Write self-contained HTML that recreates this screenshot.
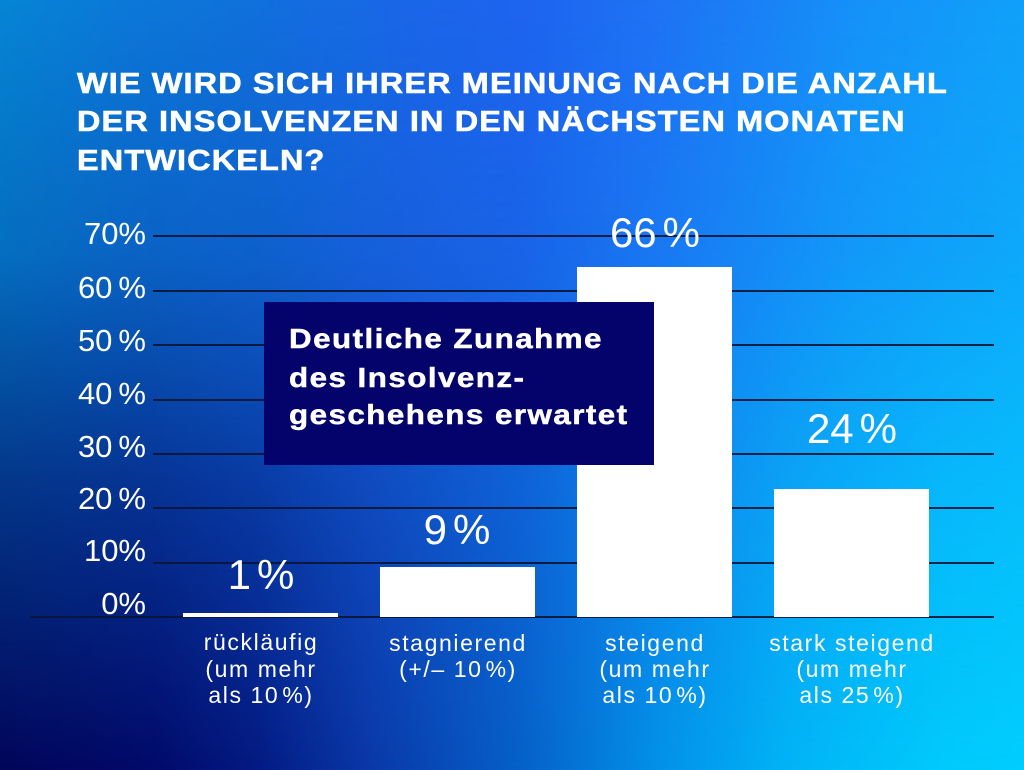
<!DOCTYPE html>
<html>
<head>
<meta charset="utf-8">
<style>
  html, body { margin: 0; padding: 0; }
  body { width: 1024px; height: 770px; overflow: hidden; position: relative; background: #02085a; }
  .bg-bottom {
    position: absolute; left: 0; top: 0; width: 1024px; height: 770px;
    background: linear-gradient(to right, #020659 0%, #020a6a 15%, #041a82 25%, #0a38a8 36%, #0661c9 51%, #0390e8 64%, #02b4f6 77%, #00cafc 92%, #00cefd 100%);
  }
  .bg-top {
    position: absolute; left: 0; top: 0; width: 1024px; height: 770px;
    background: linear-gradient(to right, #0585d5 0%, #0b78d8 12%, #1070dc 25%, #1a66e8 40%, #1d64ee 51%, #1e72f4 64%, #1982f6 75%, #1590f8 83%, #10a0fa 100%);
    -webkit-mask-image: linear-gradient(to bottom, rgba(0,0,0,1) 0%, rgba(0,0,0,0.82) 33%, rgba(0,0,0,0.38) 63%, rgba(0,0,0,0) 100%);
    mask-image: linear-gradient(to bottom, rgba(0,0,0,1) 0%, rgba(0,0,0,0.82) 33%, rgba(0,0,0,0.38) 63%, rgba(0,0,0,0) 100%);
  }
  svg { position: absolute; left: 0; top: 0; }
  text { font-family: "Liberation Sans", Arial, sans-serif; fill: #ffffff; }
</style>
</head>
<body>
<div class="bg-bottom"></div>
<div class="bg-top"></div>
<svg width="1024" height="770" viewBox="0 0 1024 770" xmlns="http://www.w3.org/2000/svg">
  <!-- Title -->
  <g transform="translate(77,0) scale(1.12,1)" font-weight="bold" font-size="29" letter-spacing="1.0" stroke="#ffffff" stroke-width="0.6">
    <text x="0" y="93">WIE WIRD SICH IHRER MEINUNG NACH DIE ANZAHL</text>
    <text x="0" y="131">DER INSOLVENZEN IN DEN NÄCHSTEN MONATEN</text>
    <text x="0" y="170">ENTWICKELN?</text>
  </g>

  <!-- Gridlines -->
  <g fill="#0b1433" fill-opacity="0.9">
    <rect x="153" y="235" width="841" height="2"/>
    <rect x="153" y="290" width="841" height="2"/>
    <rect x="153" y="344" width="841" height="2"/>
    <rect x="153" y="399" width="841" height="2"/>
    <rect x="153" y="453" width="841" height="2"/>
    <rect x="153" y="507" width="841" height="2"/>
    <rect x="153" y="562" width="841" height="2"/>
    <rect x="30" y="616" width="964" height="2"/>
  </g>

  <!-- Y axis labels -->
  <g font-size="31" text-anchor="end">
    <text x="146" y="244">70%</text>
    <text x="146" y="298">60<tspan dx="6">%</tspan></text>
    <text x="146" y="351">50<tspan dx="6">%</tspan></text>
    <text x="146" y="404">40<tspan dx="6">%</tspan></text>
    <text x="146" y="457">30<tspan dx="6">%</tspan></text>
    <text x="146" y="509">20<tspan dx="6">%</tspan></text>
    <text x="146" y="561">10%</text>
    <text x="146" y="614">0%</text>
  </g>

  <!-- Bars -->
  <g fill="#ffffff">
    <rect x="183" y="613" width="155" height="4"/>
    <rect x="380" y="567" width="155" height="50"/>
    <rect x="577" y="267" width="155" height="350"/>
    <rect x="774" y="489" width="155" height="128"/>
  </g>

  <!-- Callout box -->
  <rect x="264" y="302" width="390" height="163" fill="#03036b"/>
  <g transform="translate(289,0) scale(1.12,1)" font-weight="bold" font-size="28" letter-spacing="1.3" stroke="#ffffff" stroke-width="0.5">
    <text x="0" y="348">Deutliche Zunahme</text>
    <text x="0" y="387">des Insolvenz-</text>
    <text x="0" y="424">geschehens erwartet</text>
  </g>

  <!-- Value labels -->
  <g font-size="42" text-anchor="middle">
    <text x="261" y="589">1<tspan dx="6">%</tspan></text>
    <text x="457" y="544">9<tspan dx="6">%</tspan></text>
    <text x="655" y="247">66<tspan dx="6">%</tspan></text>
    <text x="852" y="443">24<tspan dx="6">%</tspan></text>
  </g>

  <!-- Category labels -->
  <g font-size="23" letter-spacing="1.6" text-anchor="middle">
    <text x="261" y="650">rückläufig</text>
    <text x="261" y="677">(um mehr</text>
    <text x="261" y="703">als 10<tspan dx="3">%)</tspan></text>

    <text x="458" y="651">stagnierend</text>
    <text x="458" y="677">(+/– 10<tspan dx="3">%)</tspan></text>

    <text x="655" y="651">steigend</text>
    <text x="655" y="677">(um mehr</text>
    <text x="655" y="703">als 10<tspan dx="3">%)</tspan></text>

    <text x="852" y="651">stark steigend</text>
    <text x="852" y="677">(um mehr</text>
    <text x="852" y="703">als 25<tspan dx="3">%)</tspan></text>
  </g>
</svg>
</body>
</html>
